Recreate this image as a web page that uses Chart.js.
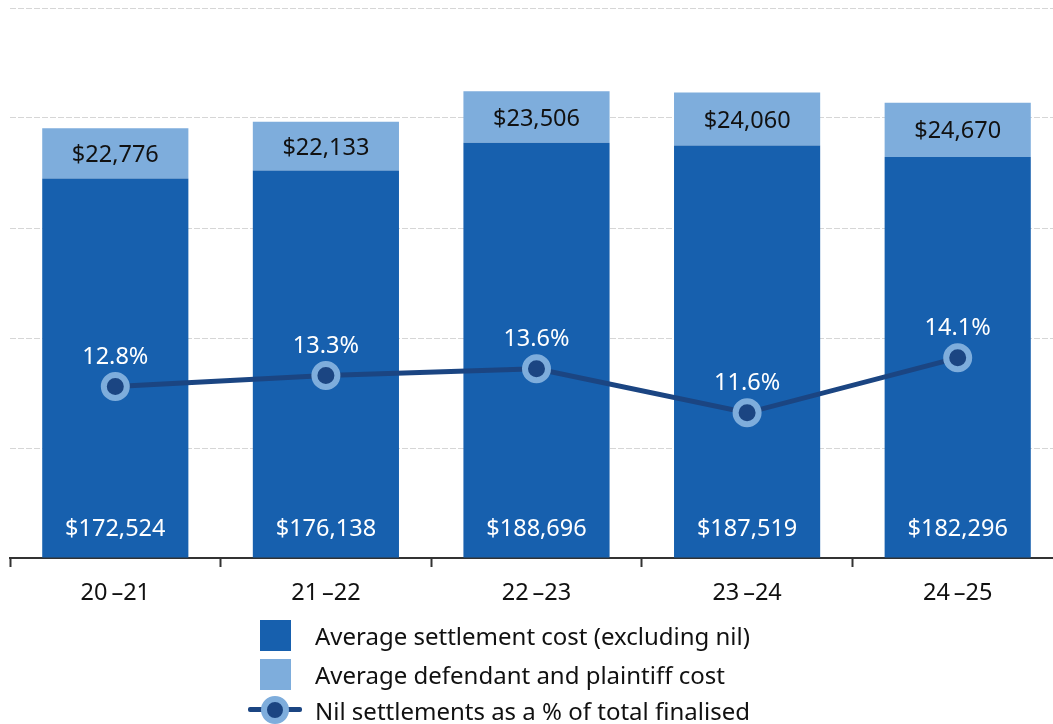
<!DOCTYPE html>
<html>
<head>
<meta charset="utf-8">
<script src="https://cdn.jsdelivr.net/npm/chart.js@4.4.1/dist/chart.umd.min.js"></script>
<style>
body { margin: 0; overflow: hidden; background: #fff; font-family: "Noto Sans", sans-serif; }
#wrap { position: relative; width: 1053px; height: 724px; overflow: hidden; }
#chart { position: absolute; left: 0; top: 0; }
#legend { position: absolute; left: 248px; top: 616px; color: #111; font-size: 24px; }
.row { display: flex; align-items: center; }
.box { width: 31px; height: 31px; margin-left: 12px; margin-right: 24px; }
.lineKey { position: relative; width: 54px; height: 30px; margin-right: 13px; }
.lineKey .bar { position: absolute; left: 0; top: 12px; width: 54px; height: 5px; background: #1b4582; border-radius: 2px; }
.lineKey .dot { position: absolute; left: 13px; top: 1px; width: 16px; height: 16px; border: 6px solid #7eaddc; border-radius: 50%; background: #1b4582; }
</style>
</head>
<body>
<div id="wrap">
  <canvas id="chart" width="1063" height="724"></canvas>
  <div id="legend">
    <div class="row" style="height:39px"><div class="box" style="background:#1760ae"></div>Average settlement cost (excluding nil)</div>
    <div class="row" style="height:39px"><div class="box" style="background:#7eaddc"></div>Average defendant and plaintiff cost</div>
    <div class="row" style="height:32px"><div class="lineKey"><div class="bar"></div><div class="dot"></div></div>Nil settlements as a % of total finalised</div>
  </div>
</div>
<script>
// данные графика
const years = ["20\u2009–21", "21\u2009–22", "22\u2009–23", "23\u2009–24", "24\u2009–25"];
const settlementCost = [172524, 176138, 188696, 187519, 182296];
const legalCost = [22776, 22133, 23506, 24060, 24670];
const nilPercent = [12.8, 13.3, 13.6, 11.6, 14.1];

const darkBlue = "#1760ae";
const lightBlue = "#7eaddc";
const navy = "#1b4582";

function fmtMoney(v) {
    return "$" + v.toLocaleString("en-US");
}

// подписи значений на столбцах и точках
const valueLabels = {
    id: "valueLabels",
    afterDatasetsDraw(chart) {
        const ctx = chart.ctx;
        ctx.save();
        ctx.font = '23.5px "Noto Sans"';
        ctx.textAlign = "center";
        ctx.textBaseline = "middle";

        chart.getDatasetMeta(0).data.forEach((bar, i) => {
            ctx.fillStyle = "#fff";
            ctx.fillText(fmtMoney(settlementCost[i]), bar.x, bar.base - 28);
        });
        chart.getDatasetMeta(1).data.forEach((bar, i) => {
            ctx.fillStyle = "#111";
            ctx.fillText(fmtMoney(legalCost[i]), bar.x, (bar.y + bar.base) / 2 + 2);
        });
        chart.getDatasetMeta(2).data.forEach((pt, i) => {
            ctx.fillStyle = "#fff";
            ctx.fillText(nilPercent[i].toFixed(1) + "%", pt.x, pt.y - 29);
        });
        ctx.restore();
    }
};

new Chart(document.getElementById("chart"), {
    data: {
        labels: years,
        datasets: [
            {
                type: "bar",
                label: "Average settlement cost (excluding nil)",
                data: settlementCost,
                backgroundColor: darkBlue,
                stack: "cost",
                yAxisID: "y",
                order: 2,
                categoryPercentage: 1,
                barPercentage: 0.694
            },
            {
                type: "bar",
                label: "Average defendant and plaintiff cost",
                data: legalCost,
                backgroundColor: lightBlue,
                stack: "cost",
                yAxisID: "y",
                order: 2,
                categoryPercentage: 1,
                barPercentage: 0.694
            },
            {
                type: "line",
                label: "Nil settlements as a % of total finalised",
                data: nilPercent,
                borderColor: navy,
                borderWidth: 5,
                backgroundColor: navy,
                pointBackgroundColor: navy,
                pointBorderColor: lightBlue,
                pointBorderWidth: 6,
                pointRadius: 11.5,
                yAxisID: "y2",
                order: 0,
                tension: 0
            }
        ]
    },
    options: {
        responsive: false,
        animation: false,
        layout: { autoPadding: false, padding: { top: 8, left: 10, right: 0, bottom: 0 } },
        plugins: {
            legend: { display: false },
            tooltip: { enabled: false }
        },
        scales: {
            x: {
                stacked: true,
                offset: true,
                afterFit: scale => { scale.height = 166; },
                border: { display: true, color: "#333", width: 2 },
                grid: {
                    offset: true,
                    drawOnChartArea: false,
                    drawTicks: true,
                    tickLength: 9,
                    tickWidth: 2,
                    color: "#333"
                },
                ticks: {
                    color: "#111",
                    padding: 12,
                    font: { family: "Noto Sans", size: 23.5 }
                }
            },
            y: {
                stacked: true,
                min: 0,
                max: 250000,
                afterFit: scale => { scale.width = 0; },
                ticks: { display: false, stepSize: 50000 },
                border: { display: false, dash: [6, 2] },
                grid: { color: "#d6d6d6", lineWidth: 1, drawTicks: false }
            },
            y2: {
                display: false,
                min: 5,
                max: 30
            }
        }
    },
    plugins: [valueLabels]
});
</script>
</body>
</html>
